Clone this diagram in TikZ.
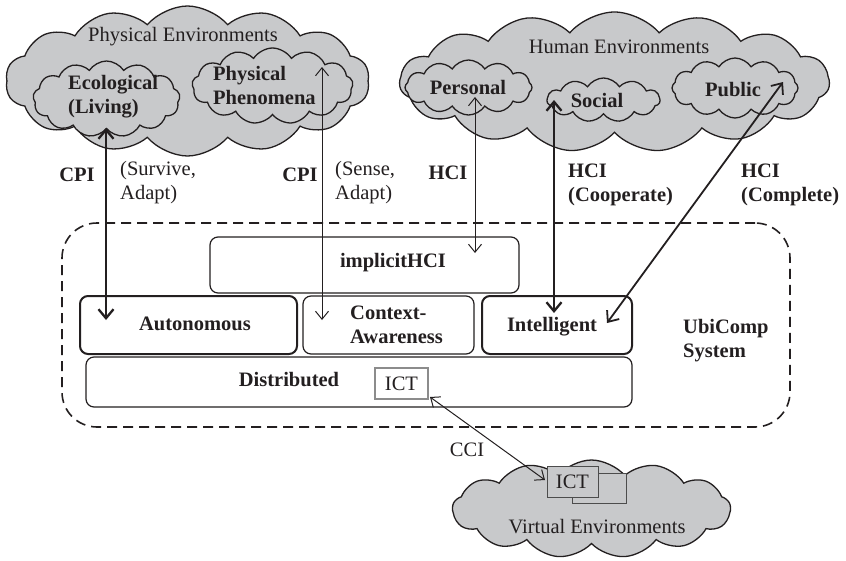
\documentclass[tikz,border=0pt]{standalone}
\usepackage{fontspec}
\setmainfont{Liberation Serif}
\usetikzlibrary{shapes.symbols,arrows.meta}
\definecolor{cloudgray}{HTML}{C8C9CB}
\definecolor{ink}{HTML}{231F20}
\begin{document}
\begin{tikzpicture}[x=1pt,y=-1pt,
  every node/.style={text=ink},
  font=\fontsize{20.5}{24}\selectfont,
  cloudbg/.style={cloud, cloud puffs=#1, cloud puff arc=115, cloud ignores aspect, draw=ink,
     line width=1.3pt, fill=cloudgray, inner sep=0pt},
  bigcloud/.style={cloud, cloud puffs=#1, cloud puff arc=100, cloud ignores aspect, draw=ink,
     line width=1.3pt, fill=cloudgray, inner sep=0pt},
  boxthin/.style={draw=ink, rounded corners=8pt, line width=1.2pt, fill=white, inner sep=0pt},
  boxthick/.style={draw=ink, rounded corners=8pt, line width=2pt, fill=white, inner sep=0pt},
  lbl/.style={inner sep=0pt, align=left},
  blbl/.style={inner sep=0pt, align=left, font=\fontsize{20.5}{24}\selectfont\bfseries},
  arrthin/.style={draw=ink, line width=1pt, {Straight Barb[length=8pt,width=13pt]}-{Straight Barb[length=8pt,width=13pt]}},
  arrthick/.style={draw=ink, line width=2.3pt, {Straight Barb[length=9pt,width=15pt]}-{Straight Barb[length=9pt,width=15pt]}},
  arrmid/.style={draw=ink, line width=1.8pt, {Straight Barb[length=9pt,width=15pt]}-{Straight Barb[length=9pt,width=15pt]}},
  ubidash/.style={draw=ink, line width=1.6pt, dash pattern=on 10pt off 6pt, rounded corners=35pt, inner sep=0pt}
]
\useasboundingbox (0,0) rectangle (846,560);

% clouds
\node[bigcloud=14, minimum width=364, minimum height=150] (phys) at (187.5,81) {};
\node[cloudbg=13, minimum width=147, minimum height=76] (eco) at (106.5,99) {};
\node[cloudbg=13, minimum width=161, minimum height=76] (phen) at (272.5,86) {};
\node[bigcloud=15, minimum width=430, minimum height=140] (human) at (614.5,82) {};
\node[cloudbg=12, minimum width=127, minimum height=55] (pers) at (468.5,87.5) {};
\node[cloudbg=11, minimum width=113, minimum height=44] (soc) at (603.5,100) {};
\node[cloudbg=12, minimum width=126, minimum height=60] (pub) at (735,88) {};
\node[bigcloud=13, minimum width=278, minimum height=98] (virt) at (591.5,509) {};

\node[lbl] (tphys) at (183,37) {Physical Environments};
\node[blbl, anchor=west] (teco) at (68,97) {Ecological\\(Living)};
\node[blbl, anchor=west] (tphen) at (213,85) {Physical\\Phenomena};
\node[lbl] (thum) at (619,47) {Human Environments};
\node[blbl] (tpers) at (468,87) {Personal};
\node[blbl] (tsoc) at (597,100) {Social};
\node[blbl] (tpub) at (733,90) {Public};

% UbiComp system
\node[ubidash, minimum width=728, minimum height=204] (ubi) at (426,325) {};
\node[boxthin, minimum width=309, minimum height=56] (impl) at (364.5,265) {};
\node[boxthick, minimum width=217, minimum height=58] (auto) at (188.5,325) {};
\node[boxthin, minimum width=171, minimum height=58] (ctx) at (388.5,325) {};
\node[boxthick, minimum width=150, minimum height=58] (intel) at (557,325) {};
\node[boxthin, minimum width=546, minimum height=50] (dist) at (359,382) {};
\node[draw=black!45, line width=1.2pt, fill=white, inner sep=0pt, minimum width=53, minimum height=31] (ict) at (401.5,383.5) {ICT};

\node[blbl] (timpl) at (393,263) {implicitHCI};
\node[blbl] (tauto) at (195,324) {Autonomous};
\node[blbl, anchor=west] (tctx) at (350,325) {Context-\\Awareness};
\node[blbl] (tintel) at (552,327) {Intelligent};
\node[blbl] (tdist) at (289,380) {Distributed};
\node[blbl, anchor=west] (tubi) at (683,341) {UbiComp\\System};

% virtual ICT
\node[draw=black!70, line width=1pt, fill=cloudgray, inner sep=0pt, minimum width=54, minimum height=30] (vict2) at (599,488) {};
\node[draw=black!70, line width=1pt, fill=cloudgray, inner sep=0pt, minimum width=51, minimum height=31] (vict) at (572.5,481.5) {ICT};
\node[lbl] (tvirt) at (597,527) {Virtual Environments};

% labels
\node[blbl] (cpi1) at (77,175) {CPI};
\node[lbl, anchor=west] (surv) at (120,183) {(Survive,\\Adapt)};
\node[blbl] (cpi2) at (300,175) {CPI};
\node[lbl, anchor=west] (sens) at (335,183) {(Sense,\\Adapt)};
\node[blbl] (hci1) at (448,173) {HCI};
\node[blbl, anchor=west] (hci2) at (568,185) {HCI\\(Cooperate)};
\node[blbl, anchor=west] (hci3) at (741,185) {HCI\\(Complete)};
\node[lbl] (cci) at (467,450) {CCI};

% connector ends
\coordinate (e1) at (106,128);  \coordinate (f1) at (106,320);
\coordinate (e2) at (322,67);   \coordinate (f2) at (322,320);
\coordinate (e3) at (475,97);   \coordinate (f3) at (475,253);
\coordinate (e4) at (554,100);  \coordinate (f4) at (554,313);
\coordinate (e5) at (783,82);   \coordinate (f5) at (607,323);
\coordinate (e6) at (430,397);  \coordinate (f6) at (545,480);

\draw[arrthick] (e1) -- (f1);
\draw[arrthin] (e2) -- (f2);
\draw[arrthin] (e3) -- (f3);
\draw[arrthick] (e4) -- (f4);
\draw[arrmid] (e5) -- (f5);
\draw[arrthin] (e6) -- (f6);
\end{tikzpicture}
\end{document}
